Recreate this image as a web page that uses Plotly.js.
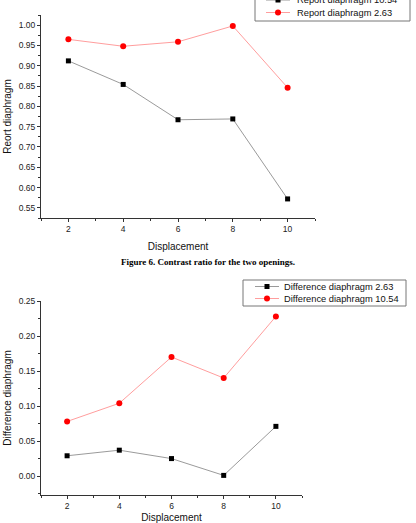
<!DOCTYPE html>
<html><head><meta charset="utf-8">
<script src="https://cdn.plot.ly/plotly-3.0.1.min.js"></script>
<style>html,body{margin:0;padding:0;background:#fff}#chart{width:416px;height:523px}</style>
</head><body><div id="chart"></div>
<script>
// ---- data ----
const displacement = [2, 4, 6, 8, 10];
const reportNames = ['Report diaphragm 10.54', 'Report diaphragm 2.63'];
const report1054 = [0.912, 0.854, 0.767, 0.769, 0.572];
const report263 = [0.965, 0.948, 0.959, 0.998, 0.846];
const diffNames = ['Difference diaphragm 2.63', 'Difference diaphragm 10.54'];
const diff263 = [0.029, 0.037, 0.025, 0.001, 0.071];
const diff1054 = [0.078, 0.104, 0.170, 0.140, 0.228];
const xTitle = 'Displacement';
const yTitleTop = 'Reort diaphragm';
const yTitleBottom = 'Difference diaphragm';
const caption = 'Figure 6. Contrast ratio for the two openings.';

// ---- layout helpers ----
const W = 416, H = 523;
const px = x => x / W, py = y => 1 - y / H;
const FONT = 'Liberation Sans, Arial, sans-serif';
const BLACK = '#000000', RED = '#ff0000';
const BLACK_LINE = '#555555', RED_LINE = '#ff5a5a';

function xAxis(domain, anchor, standoff) {
  return {
    domain, anchor, range: [1, 11], tickmode: 'linear', tick0: 2, dtick: 2,
    ticks: 'outside', ticklen: 3, tickwidth: 1, tickcolor: '#333',
    showline: true, linecolor: '#333', linewidth: 1, showgrid: false, zeroline: false,
    tickfont: {family: FONT, size: 8.5, color: '#222'},
    minor: {ticks: 'outside', ticklen: 2, tick0: 1, dtick: 1, tickcolor: '#333', showgrid: false},
    title: {text: xTitle, font: {family: FONT, size: 10, color: '#111'}, standoff}
  };
}
function yAxis(domain, anchor, range, title, standoff) {
  return {
    domain, anchor, range, tickmode: 'linear', tick0: 0, dtick: 0.05, tickformat: '.2f',
    ticks: 'outside', ticklen: 3, tickwidth: 1, tickcolor: '#333',
    showline: true, linecolor: '#333', linewidth: 1, showgrid: false, zeroline: false,
    tickfont: {family: FONT, size: 8.5, color: '#222'},
    minor: {ticks: 'outside', ticklen: 2, dtick: 0.025, tick0: 0, tickcolor: '#333', showgrid: false},
    title: {text: title, font: {family: FONT, size: 10, color: '#111'}, standoff}
  };
}

function line(x, y, name, color, lineColor, symbol, xa, ya) {
  return {
    x, y, name, type: 'scatter', mode: 'lines+markers', xaxis: xa, yaxis: ya,
    line: {color: lineColor, width: 0.6},
    marker: {color, symbol, size: symbol === 'circle' ? 6 : 5},
    showlegend: false
  };
}

// custom compact legend (px geometry)
function legend(box, names, colors, lineColors, symbols, rowsY, lineX, textX) {
  const shapes = [], ann = [];
  shapes.push({type: 'rect', xref: 'paper', yref: 'paper',
    x0: px(box[0]), x1: px(box[1]), y0: py(box[2]), y1: py(box[3]),
    line: {color: '#777', width: 1}, fillcolor: 'rgba(0,0,0,0)'});
  names.forEach((n, i) => {
    const y = rowsY[i];
    const mx = (lineX[0] + lineX[1]) / 2;
    shapes.push({type: 'line', xref: 'paper', yref: 'paper',
      x0: px(lineX[0]), x1: px(lineX[1]), y0: py(y), y1: py(y),
      line: {color: lineColors[i], width: 0.6}});
    const s = symbols[i] === 'circle' ? 3 : 2.5;
    shapes.push({type: symbols[i] === 'circle' ? 'circle' : 'rect', xref: 'paper', yref: 'paper',
      x0: px(mx - s), x1: px(mx + s), y0: py(y + s), y1: py(y - s),
      line: {color: colors[i], width: 0}, fillcolor: colors[i]});
    ann.push({xref: 'paper', yref: 'paper', x: px(textX), y: py(y), xanchor: 'left', yanchor: 'middle',
      text: n, showarrow: false, font: {family: FONT, size: 9.3, color: '#111'}});
  });
  return {shapes, ann};
}

const traces = [
  line(displacement, report1054, reportNames[0], BLACK, BLACK_LINE, 'square', 'x', 'y'),
  line(displacement, report263, reportNames[1], RED, RED_LINE, 'circle', 'x', 'y'),
  line(displacement, diff263, diffNames[0], BLACK, BLACK_LINE, 'square', 'x2', 'y2'),
  line(displacement, diff1054, diffNames[1], RED, RED_LINE, 'circle', 'x2', 'y2')
];

const legTop = legend([255, 410, 21, -7], reportNames, [BLACK, RED], [BLACK_LINE, RED_LINE], ['square', 'circle'],
  [0, 12.5], [266, 290], 295);
const legBot = legend([243, 406, 306, 280], diffNames, [BLACK, RED], [BLACK_LINE, RED_LINE], ['square', 'circle'],
  [286.5, 298.5], [255, 279], 282);

const layout = {
  width: W, height: H,
  margin: {l: 0, r: 0, t: 0, b: 0, autoexpand: false},
  paper_bgcolor: '#fff', plot_bgcolor: '#fff',
  showlegend: false,
  xaxis: xAxis([px(41), px(315)], 'y', 9),
  yaxis: yAxis([py(218), py(15)], 'x', [0.525, 1.025], yTitleTop, 5),
  xaxis2: xAxis([px(41), px(302)], 'y2', 9),
  yaxis2: yAxis([py(495), py(301)], 'x2', [-0.027, 0.25], yTitleBottom, 5),
  shapes: [...legTop.shapes, ...legBot.shapes],
  annotations: [
    ...legTop.ann, ...legBot.ann,
    {xref: 'paper', yref: 'paper', x: px(208), y: py(262), xanchor: 'center', yanchor: 'middle',
     text: '<b>' + caption + '</b>', showarrow: false,
     font: {family: 'Liberation Serif, Times New Roman, serif', size: 9, color: '#000'}}
  ]
};

Plotly.newPlot('chart', traces, layout, {staticPlot: true, displayModeBar: false});
</script>
</body></html>
